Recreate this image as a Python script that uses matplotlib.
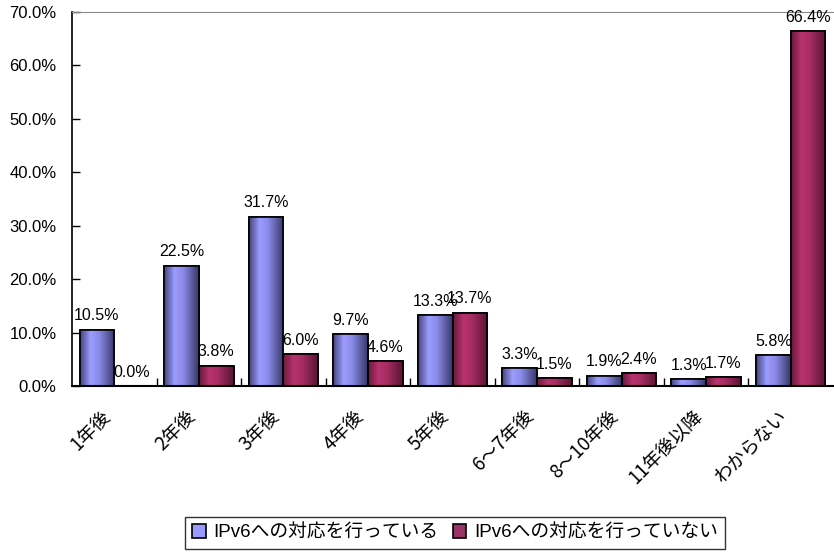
import numpy as np
import matplotlib
matplotlib.use('Agg')
import matplotlib.pyplot as plt
from matplotlib.colors import LinearSegmentedColormap
from matplotlib.transforms import ScaledTranslation

plt.rcParams['font.family'] = ['Liberation Sans', 'Noto Sans CJK JP', 'DejaVu Sans']

categories = ['1年後', '2年後', '3年後', '4年後', '5年後', '6～7年後', '8～10年後', '11年後以降', 'わからない']
doing = [10.5, 22.5, 31.7, 9.7, 13.3, 3.3, 1.9, 1.3, 5.8]
not_doing = [0.0, 3.8, 6.0, 4.6, 13.7, 1.5, 2.4, 1.7, 66.4]
series_names = ['IPv6への対応を行っている', 'IPv6への対応を行っていない']
yticks = [0, 10, 20, 30, 40, 50, 60, 70]

# cylinder-like shading: dark edge, light near left third, dark again
cm_blue = LinearSegmentedColormap.from_list('b', [(0, '#45457f'), (0.3, '#9c9cff'), (0.55, '#8a8ae8'), (1, '#38386a')])
cm_red = LinearSegmentedColormap.from_list('r', [(0, '#6a1a3e'), (0.3, '#b8336e'), (0.55, '#a52d62'), (1, '#5a1434')])

fig = plt.figure(figsize=(8.34, 5.54), dpi=100)
ax = fig.add_axes([72 / 834, 1 - 386 / 554, 1 - 73 / 834, (386 - 12) / 554])

x = np.arange(len(categories))
w = 0.41
b1 = ax.bar(x - w / 2, doing, w, color='#9999ff', edgecolor='black', linewidth=1.2, zorder=2)
b2 = ax.bar(x + w / 2, not_doing, w, color='#993366', edgecolor='black', linewidth=1.2, zorder=2)

grad = np.linspace(0, 1, 64).reshape(1, -1)
for bars, cm in [(b1, cm_blue), (b2, cm_red)]:
    for p in bars:
        if p.get_height() <= 0:
            continue
        x0, y0 = p.get_x(), p.get_y()
        im = ax.imshow(grad, cmap=cm, aspect='auto', extent=[x0, x0 + p.get_width(), y0, y0 + p.get_height()],
                       zorder=2.5, interpolation='bilinear')
        im.set_clip_path(p)
    for p in bars:
        ax.add_patch(plt.Rectangle((p.get_x(), p.get_y()), p.get_width(), p.get_height(),
                                   fill=False, edgecolor='black', linewidth=1.2, zorder=3))

for bars, vals in [(b1, doing), (b2, not_doing)]:
    for p, v in zip(bars, vals):
        ax.text(p.get_x() + p.get_width() / 2, v + 1.2, f'{v:.1f}%', ha='center', va='bottom',
                fontsize=11.5, zorder=4)

ax.set_xlim(-0.5, len(categories) - 0.5)
ax.set_ylim(0, 70)
ax.set_yticks(yticks)
ax.set_yticklabels([f'{t:.1f}%' for t in yticks], fontsize=12)

# category labels drawn as text so they can sit a bit left of / below the centre
ax.set_xticks(x)
ax.set_xticklabels([])
ax.tick_params(axis='x', length=0)
lab_tr = ax.get_xaxis_transform() + ScaledTranslation(-14 / 100, -20 / 100, fig.dpi_scale_trans)
for xi, c in zip(x, categories):
    ax.text(xi, 0, c, transform=lab_tr, rotation=45, ha='right', va='top', rotation_mode='anchor',
            fontsize=13.5, family=['Noto Sans CJK JP', 'DejaVu Sans'], clip_on=False)

ax.set_xticks(np.arange(len(categories) - 1) + 0.5, minor=True)
ax.tick_params(axis='x', which='minor', direction='in', length=6, width=1)
ax.tick_params(axis='y', direction='in', length=6, width=1, pad=11)
ax.spines['top'].set_color('#888888')
ax.spines['right'].set_visible(False)
ax.spines['left'].set_linewidth(1.2)
ax.spines['bottom'].set_linewidth(1.5)

leg = fig.legend([b1, b2], series_names, loc='center', bbox_to_anchor=(455 / 834, 1 - 533 / 554), ncol=2,
                 frameon=True, fancybox=False, edgecolor='black', handlelength=0.7, handleheight=0.7,
                 handletextpad=0.4, columnspacing=0.8, borderpad=0.4,
                 prop={'family': ['Liberation Sans', 'Noto Sans CJK JP'], 'size': 13.5})
leg.get_frame().set_linewidth(1.0)

fig.savefig('out.png', dpi=100)
